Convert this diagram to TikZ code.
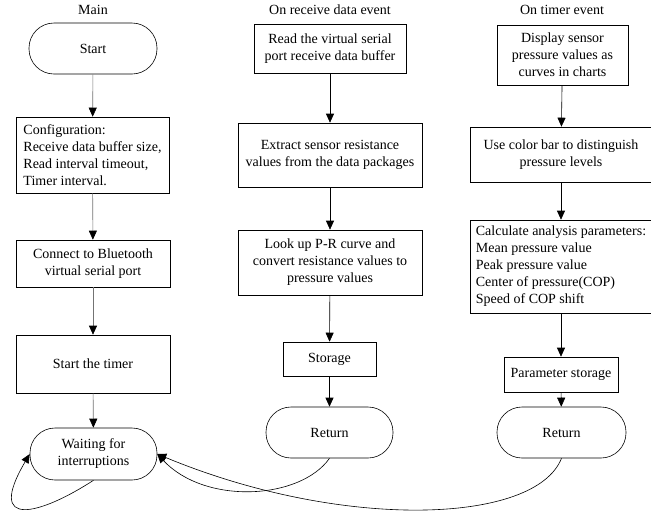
\documentclass[tikz,border=0pt]{standalone}
\usepackage{fontspec}
\setmainfont{Liberation Serif}
\usetikzlibrary{arrows.meta}
\begin{document}
\begin{tikzpicture}[x=1pt,y=-1pt,
  font=\fontsize{14pt}{17pt}\selectfont,
  box/.style={draw=black,line width=0.6pt,inner sep=0pt,align=center},
  stadium/.style={draw=black,line width=0.6pt,rounded corners=25pt,inner sep=0pt,align=center},
  title/.style={inner sep=0pt},
  arr/.style={line width=0.6pt,-{Triangle[length=9pt,width=8pt]}},
  garr/.style={line width=0.6pt,draw=black!55,-{Triangle[length=9pt,width=8pt,color=black]}}
]
\useasboundingbox (0,0) rectangle (651,520);

% titles
\node[title] (tmain) at (93,10) {Main};
\node[title] (trecv) at (330,10) {On receive data event};
\node[title] (ttimer) at (562,10) {On timer event};

% main column
\node[stadium,minimum width=128pt,minimum height=51pt] (start) at (93,48.5) {Start};
\node[box,align=left,minimum width=153pt,minimum height=76pt] (config) at (92.5,155)
  {Configuration:\\Receive data buffer size,\\Read interval timeout,\\Timer interval.};
\node[box,minimum width=154pt,minimum height=47pt] (connect) at (93,263.5)
  {Connect to Bluetooth\\virtual serial port};
\node[box,minimum width=154pt,minimum height=58pt] (timer) at (93,364) {Start the timer};
\node[stadium,minimum width=127pt,minimum height=52pt] (wait) at (93.5,454)
  {Waiting for\\interruptions};

% receive column
\node[box,minimum width=152pt,minimum height=49pt] (read) at (330,48.5)
  {Read the virtual serial\\port receive data buffer};
\node[box,minimum width=184pt,minimum height=64pt] (extract) at (330,155)
  {Extract sensor resistance\\values from the data packages};
\node[box,minimum width=184pt,minimum height=65pt] (lookup) at (330,262.5)
  {Look up P-R curve and\\convert resistance values to\\pressure values};
\node[box,minimum width=93pt,minimum height=34pt] (storage) at (329.5,359) {Storage};
\node[stadium,minimum width=127pt,minimum height=51pt] (ret1) at (329.5,432.5) {Return};

% timer column
\node[box,minimum width=131pt,minimum height=60pt] (display) at (562.5,55)
  {Display sensor\\pressure values as\\curves in charts};
\node[box,minimum width=182pt,minimum height=55pt] (colorbar) at (561,154.5)
  {Use color bar to distinguish\\pressure levels};
\node[box,align=left,minimum width=182pt,minimum height=93pt] (calc) at (561,266.5)
  {Calculate analysis parameters:\\Mean pressure value\\Peak pressure value\\Center of pressure(COP)\\Speed of COP shift};
\node[box,minimum width=114pt,minimum height=35pt] (pstorage) at (561,374.5) {Parameter storage};
\node[stadium,minimum width=129pt,minimum height=51pt] (ret2) at (561.5,432.5) {Return};

% main connectors
\draw[garr] (start) -- (config);
\draw[garr] (config) -- (connect);
\draw[garr] (connect) -- (timer);
\draw[garr] (timer) -- (wait);

% receive connectors
\draw[arr] (read) -- (extract);
\draw[arr] (extract) -- (lookup);
\draw[arr] (lookup) -- (storage);
\draw[arr] (storage) -- (ret1);

% timer connectors
\draw[arr] (display) -- (colorbar);
\draw[arr] (colorbar) -- (calc);
\draw[arr] (calc) -- (pstorage);
\draw[arr] (pstorage) -- (ret2);

% returns to waiting
\draw[arr] (ret1.south) .. controls (300,500) and (205,505) .. (wait.east);
\draw[arr] (ret2.south) .. controls (535,525) and (340,530) .. (wait.east);

% self loop
\draw[arr] (wait.south) .. controls (40,515) and (-15,530) .. (wait.west);
\end{tikzpicture}
\end{document}
